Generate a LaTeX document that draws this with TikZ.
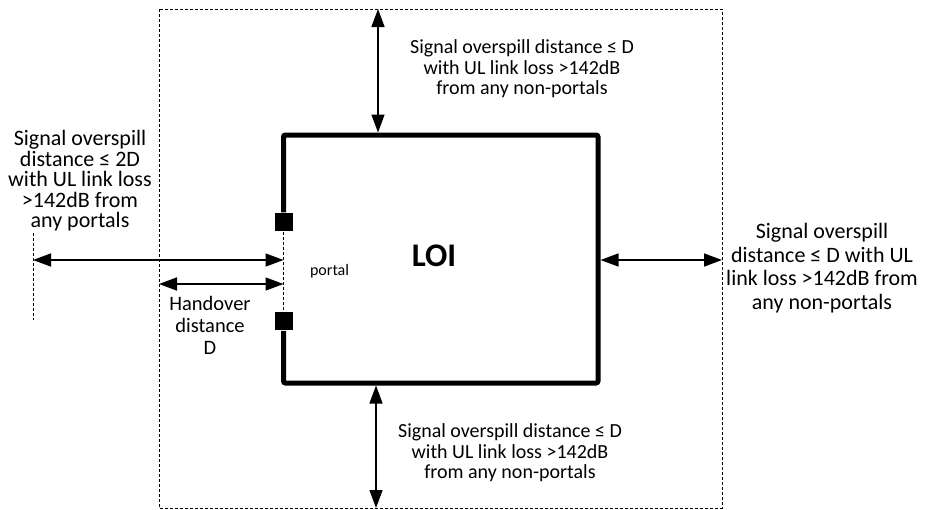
\documentclass[tikz,border=0pt]{standalone}
\usepackage{fontspec}
\setmainfont{Carlito}
\usetikzlibrary{arrows.meta, positioning, calc}
\tikzset{
  every picture/.style={line width=1.5pt},
  wall/.style={line width=5pt, rounded corners=2pt},
  bound/.style={line width=1pt, dash pattern=on 3pt off 2pt},
  dim/.style={{Triangle[length=18pt,width=13pt]}-{Triangle[length=18pt,width=13pt]}, line width=1.5pt},
  note/.style={align=center, inner sep=0pt, font=\fontsize{20}{20.5}\selectfont},
  sidenote/.style={note, font=\fontsize{22}{#1}\selectfont},
  sidenote/.default=20.5,
  portalbox/.style={fill=black, minimum size=18pt, inner sep=0pt},
}

\begin{document}
\begin{tikzpicture}[x=1pt, y=-1pt]
  \useasboundingbox (0,0) rectangle (925,509);

  % zone of interest round the LOI
  \coordinate (zNW) at (159,9);
  \coordinate (zSE) at (722,508);
  \draw[bound] (zNW) rectangle (zSE);

  % the LOI itself, open where the portals are
  \coordinate (nw) at (283.5,135);
  \coordinate (se) at (598,383);
  \node[portalbox] (pu) at (283.5,222) {};
  \node[portalbox] (pl) at (283.5,321) {};
  \draw[wall] (pu.north) -- (pu.north |- nw) -- (se |- nw) -- (se) -- (pl.south |- se) -- (pl.south);
  \draw[bound] (pu.south) -- (pl.north);
  \node[font=\fontsize{33}{36}\selectfont\bfseries] (loi) at (434,256) {LOI};
  \node[font=\fontsize{16}{18}\selectfont, anchor=west] (portal) at (306,271) {portal};

  % left side: portals
  \coordinate (farL) at (33,260);
  \draw[bound] (33,233) -- (33,320);
  \draw[dim] (farL) -- (farL -| nw);
  \coordinate (hoL) at (159,284);
  \draw[dim] (hoL) -- (hoL -| nw);
  \node[sidenote] (leftnote) at (80,181) {Signal overspill\\ distance ≤ 2D\\ with UL link loss\\ >142dB from\\ any portals};
  \node[note, font=\fontsize{20.5}{22}\selectfont] (hand) at (210,325) {Handover\\ distance\\ D};

  % top, right and bottom: non-portals
  \coordinate (topA) at (378,9);
  \coordinate (topB) at (378,132.5);
  \draw[dim] (topA) -- (topB);
  \node[note] (topnote) at (522,69) {Signal overspill distance ≤ D\\ with UL link loss >142dB\\ from any non-portals};

  \coordinate (rightA) at (600.5,260);
  \draw[dim] (rightA) -- (rightA -| zSE);
  \node[sidenote=23.5] (rightnote) at (822,268) {Signal overspill\\ distance ≤ D with UL\\ link loss >142dB from\\ any non-portals};

  \coordinate (botA) at (376,385.5);
  \draw[dim] (botA) -- (botA |- zSE);
  \node[note] (botnote) at (510,453) {Signal overspill distance ≤ D\\ with UL link loss >142dB\\ from any non-portals};
\end{tikzpicture}
\end{document}
